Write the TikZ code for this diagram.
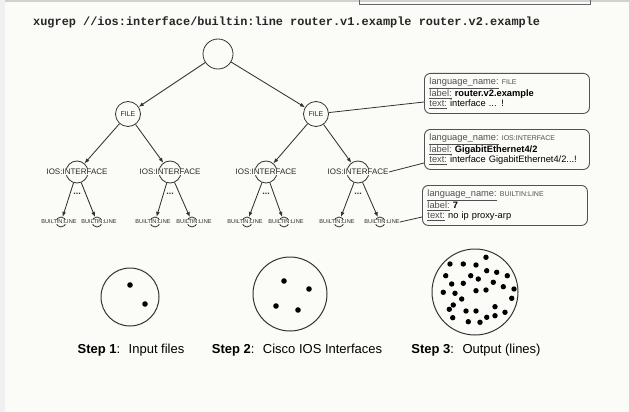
\documentclass[tikz,border=0pt]{standalone}
\usepackage{fontspec}
\setmainfont{Liberation Sans}
\newfontfamily\monof{Liberation Mono}
\usetikzlibrary{arrows.meta}
\definecolor{bg}{HTML}{FBFCF7}
\definecolor{ln}{HTML}{333333}
\definecolor{lab}{HTML}{505050}
\tikzset{
  conn/.style={draw=ln, line width=0.85pt, -{Latex[length=5pt,width=4pt]}},
  plain/.style={draw=ln, line width=0.8pt},
  circ/.style={circle, draw=ln, line width=0.8pt, inner sep=0pt},
  treelab/.style={fill=bg, inner sep=0.3pt, text=black!85},
  filelab/.style={treelab, font=\fontsize{7}{8}\selectfont},
  ioslab/.style={treelab, font=\fontsize{8}{9}\selectfont},
  blab/.style={treelab, font=\fontsize{5.6}{6.5}\selectfont},
  dotslab/.style={font=\fontsize{9}{9}\selectfont\bfseries, text=ln},
  infobox/.style={draw=ln!85, rounded corners=6pt, line width=0.9pt, anchor=north west,
    minimum width=165pt, minimum height=40pt, text width=155pt, inner xsep=5pt,
    align=left, font=\fontsize{9.3}{10.6}\selectfont},
  bigc/.style={circle, draw=ln, line width=1pt, inner sep=0pt},
  steplab/.style={font=\fontsize{13}{15}\selectfont}
}
\newcommand{\kw}[1]{\textcolor{lab}{\underline{#1}}}
\newcommand{\sm}[1]{{\fontsize{7}{10.6}\selectfont\textcolor{lab}{#1}}}
\begin{document}
\begin{tikzpicture}[x=1pt,y=-1pt]
\useasboundingbox (0,0) rectangle (629,412);
\fill[bg] (0,0) rectangle (629,412);
\fill[black!18] (0,0) rectangle (629,2.5);
\fill[black!6] (0,0) rectangle (5,412);
\draw[black!60, line width=0.6pt] (359,0) -- (359,4.5) -- (590,4.5) -- (590,0);

% title
\node[anchor=west, inner sep=0pt, font=\monof\fontsize{11.9}{13}\selectfont\bfseries, text=black!85] (title) at (33,22)
  {xugrep //ios:interface/builtin:line router.v1.example router.v2.example};

% tree circles
\node[circ, minimum size=30pt] (root) at (218,54) {};
\node[circ, minimum size=25pt] (f1) at (128,114) {};
\node[circ, minimum size=25pt] (f2) at (316,114) {};
\node[circ, minimum size=22pt] (i1) at (77,172) {};
\node[circ, minimum size=22pt] (i2) at (170,172) {};
\node[circ, minimum size=22pt] (i3) at (266,172) {};
\node[circ, minimum size=22pt] (i4) at (358,172) {};
\node[circ, minimum size=10pt] (b1) at (61,222) {};
\node[circ, minimum size=10pt] (b2) at (97,222) {};
\node[circ, minimum size=10pt] (b3) at (155,222) {};
\node[circ, minimum size=10pt] (b4) at (192,222) {};
\node[circ, minimum size=10pt] (b5) at (247,222) {};
\node[circ, minimum size=10pt] (b6) at (284,222) {};
\node[circ, minimum size=10pt] (b7) at (339,222) {};
\node[circ, minimum size=10pt] (b8) at (380,222) {};

% arrows
\draw[conn] (root) -- (f1);
\draw[conn] (root) -- (f2);
\draw[conn] (f1) -- (i1);
\draw[conn] (f1) -- (i2);
\draw[conn] (f2) -- (i3);
\draw[conn] (f2) -- (i4);
\draw[conn] (i1) -- (b1);
\draw[conn] (i1) -- (b2);
\draw[conn] (i2) -- (b3);
\draw[conn] (i2) -- (b4);
\draw[conn] (i3) -- (b5);
\draw[conn] (i3) -- (b6);
\draw[conn] (i4) -- (b7);
\draw[conn] (i4) -- (b8);

% labels
\node[filelab] (f1l) at (f1) {FILE};
\node[filelab] (f2l) at (f2) {FILE};
\node[ioslab] (i1l) at (i1) {IOS:INTERFACE};
\node[ioslab] (i2l) at (i2) {IOS:INTERFACE};
\node[ioslab] (i3l) at (i3) {IOS:INTERFACE};
\node[ioslab] (i4l) at (i4) {IOS:INTERFACE};
\node[blab] (b1l) at ([xshift=-2pt]b1) {BUILTIN:LINE};
\node[blab] (b2l) at ([xshift=2pt]b2) {BUILTIN:LINE};
\node[blab] (b3l) at ([xshift=-2pt]b3) {BUILTIN:LINE};
\node[blab] (b4l) at ([xshift=2pt]b4) {BUILTIN:LINE};
\node[blab] (b5l) at ([xshift=-2pt]b5) {BUILTIN:LINE};
\node[blab] (b6l) at ([xshift=2pt]b6) {BUILTIN:LINE};
\node[blab] (b7l) at ([xshift=-2pt]b7) {BUILTIN:LINE};
\node[blab] (b8l) at ([xshift=2pt]b8) {BUILTIN:LINE};
\node[dotslab] (d1) at (77,194) {...};
\node[dotslab] (d2) at (170,194) {...};
\node[dotslab] (d3) at (266,194) {...};
\node[dotslab] (d4) at (358,194) {...};

% info boxes
\node[infobox] (box1) at (424,73)
  {\kw{language\_name:}\ \sm{FILE}\\
   \kw{label:}\ \textbf{router.v2.example}\\
   \kw{text:}\ interface ... !};
\node[infobox] (box2) at (424,129)
  {\kw{language\_name:}\ \sm{IOS:INTERFACE}\\
   \kw{label:}\ \textbf{GigabitEthernet4/2}\\
   \kw{text:}\ interface GigabitEthernet4/2...!};
\node[infobox] (box3) at (422,185)
  {\kw{language\_name:}\ \sm{BUILTIN:LINE}\\
   \kw{label:}\ \textbf{7}\\
   \kw{text:}\ no ip proxy-arp};
\coordinate (e1) at (424,102);
\coordinate (e2) at (424,163);
\coordinate (e3) at (422,217);
\draw[plain] (f2) -- (e1);
\draw[plain] (i4l.east) -- (e2);
\draw[plain] (b8l.east) -- (e3);

% bottom circles
\node[bigc, minimum size=58pt] (c1) at (130,297) {};
\node[bigc, minimum size=74pt] (c2) at (290,294) {};
\node[bigc, minimum size=86pt] (c3) at (475,292) {};
\foreach \p in {(130,285),(145,304)} \fill \p circle (2.8pt);
\foreach \p in {(284,281),(309,289),(276,306),(298,310)} \fill \p circle (2.8pt);
\foreach \p in {(450,264),(463.3,264),(476,265),(486,257.3),
  (445.7,275.7),(470.7,275.7),(486.7,270.7),(496.7,272.3),(507.3,275.7),
  (451.7,284),(463.3,283.3),(478.3,279),(493.3,282.3),(503.3,286.7),(514,289),
  (443.3,292.3),(455,293.3),(476,290.7),(486,290),
  (461.7,299),(511.7,298.3),
  (453.3,305),(449.3,309.3),(495,306.7),(505,312.3),
  (466,311),(476,311),
  (452.7,317.7),(468.3,321.7),(480,322.3),(486.7,317.3),(495,315.7)}
  \fill \p circle (2.7pt);

\node[steplab] (s1) at (131,350) {\textbf{Step 1}:~ Input files};
\node[steplab] (s2) at (297,350) {\textbf{Step 2}:~ Cisco IOS Interfaces};
\node[steplab] (s3) at (476,350) {\textbf{Step 3}:~ Output (lines)};
\end{tikzpicture}
\end{document}
